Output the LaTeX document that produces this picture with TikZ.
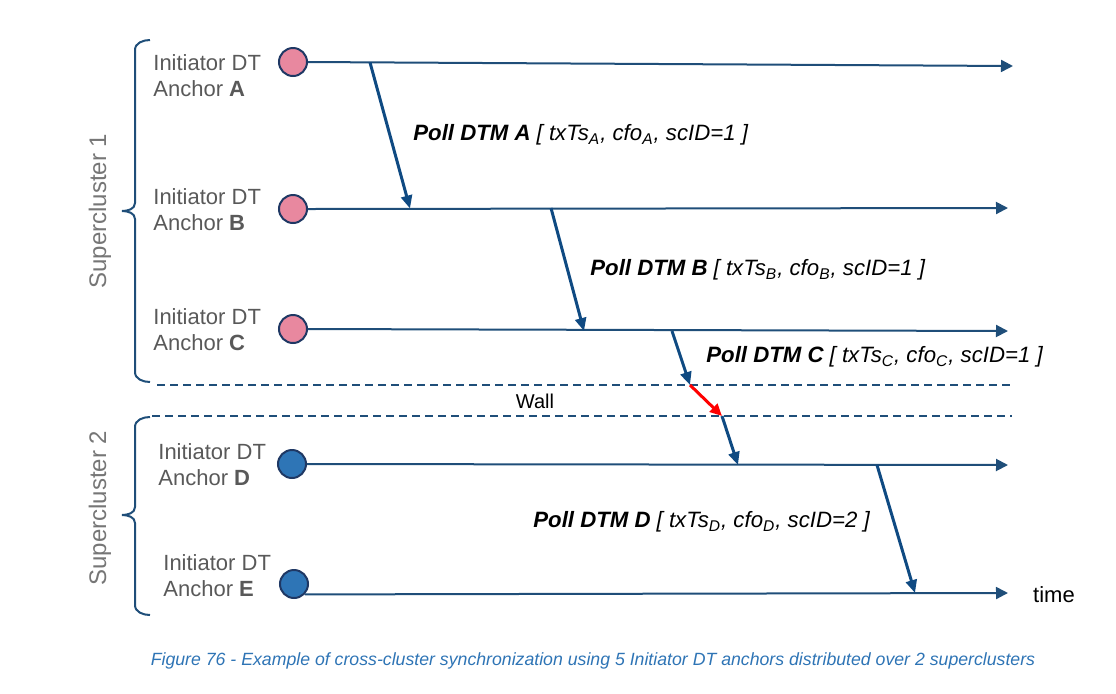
\documentclass[tikz,border=0pt]{standalone}
\usepackage{fontspec}
\setmainfont{Liberation Sans}
\usetikzlibrary{arrows.meta}
\definecolor{tlnavy}{HTML}{1F4E79}
\definecolor{msgnavy}{HTML}{0F4A82}
\definecolor{pinkc}{HTML}{E8889F}
\definecolor{bluec}{HTML}{2E75B6}
\definecolor{edgec}{HTML}{1F3864}
\definecolor{graytxt}{HTML}{595959}
\definecolor{sctxt}{HTML}{767676}
\definecolor{capblue}{HTML}{2E74B5}
\newcommand{\mysub}[1]{\textsubscript{#1}}
\tikzset{
  anchorpink/.style={circle,fill=pinkc,draw=edgec,line width=1pt,minimum size=14pt,inner sep=0pt},
  anchorblue/.style={circle,fill=bluec,draw=edgec,line width=1pt,minimum size=14pt,inner sep=0pt},
  tl/.style={draw=tlnavy,line width=1pt,-{Triangle[length=6pt,width=6pt]}},
  msg/.style={draw=msgnavy,line width=1.5pt,-{Triangle[length=6.5pt,width=5.5pt]}},
  redmsg/.style={draw=red,line width=1.5pt,-{Triangle[length=6pt,width=5.5pt]}},
  wall/.style={draw=tlnavy,line width=1pt,dash pattern=on 4pt off 2.5pt},
  brace/.style={draw=tlnavy,line width=1pt},
  lbl/.style={anchor=west,align=left,inner sep=0pt,text=graytxt,font=\fontsize{11}{13}\selectfont},
  sclbl/.style={rotate=90,inner sep=0pt,text=sctxt,font=\fontsize{12}{14}\selectfont},
  poll/.style={anchor=west,inner sep=0pt,text=black,font=\fontsize{11.1}{13}\selectfont\itshape},
  plain/.style={inner sep=0pt,text=black,font=\fontsize{11}{13}\selectfont},
  caption/.style={inner sep=0pt,text=capblue,font=\fontsize{8.85}{10}\selectfont\itshape}
}
\begin{document}
\begin{tikzpicture}[x=0.5pt,y=-0.5pt]
\useasboundingbox (0,0) rectangle (1116,693);

% anchors
\node[anchorpink] (cA) at (293,62) {};
\node[anchorpink] (cB) at (293,209) {};
\node[anchorpink] (cC) at (293,329) {};
\node[anchorblue] (cD) at (292,464) {};
\node[anchorblue] (cE) at (294,584) {};

% labels
\node[lbl] (lA) at (153,76) {Initiator DT\\Anchor \textbf{A}};
\node[lbl] (lB) at (153,210) {Initiator DT\\Anchor \textbf{B}};
\node[lbl] (lC) at (153,330) {Initiator DT\\Anchor \textbf{C}};
\node[lbl] (lD) at (158,465) {Initiator DT\\Anchor \textbf{D}};
\node[lbl] (lE) at (163,576) {Initiator DT\\Anchor \textbf{E}};

% timeline ends
\coordinate (tA) at (1013,66);
\coordinate (tB) at (1008,208);
\coordinate (tC) at (1008,331);
\coordinate (tD) at (1008,465);
\coordinate (tE) at (1008,593);

\draw[tl] (cA.east) -- (tA);
\draw[tl] (cB.east) -- (tB);
\draw[tl] (cC.east) -- (tC);
\draw[tl] (cD.east) -- (tD);
\draw[tl] (cE.-44) -- (tE);

% wall
\coordinate (w1s) at (157,385);
\coordinate (w1e) at (1012,385);
\coordinate (w2s) at (152,416);
\coordinate (w2e) at (1012,416);
\draw[wall] (w1s) -- (w1e);
\draw[wall] (w2s) -- (w2e);
\node[plain,font=\fontsize{10}{12}\selectfont] (wall) at (535,401) {Wall};

% braces
\draw[brace] (150,40) to[out=180,in=90] (135,50) -- (135,203)
  to[out=270,in=0] (122,211) to[out=0,in=90] (135,219) -- (135,372)
  to[out=270,in=180] (150,382);
\draw[brace] (150,417) to[out=180,in=90] (135,427) -- (135,507)
  to[out=270,in=0] (122,515) to[out=0,in=90] (135,523) -- (135,605)
  to[out=270,in=180] (150,615);
\node[sclbl] (sc1) at (100,211) {Supercluster 1};
\node[sclbl] (sc2) at (100,508) {Supercluster 2};

% messages
\coordinate (mAs) at (370,62.4);
\coordinate (mAe) at (410,208.5);
\coordinate (mBs) at (551,208);
\coordinate (mBe) at (584,331);
\coordinate (mCs) at (672,331);
\coordinate (mCw) at (690,385);
\coordinate (mCx) at (722,416);
\coordinate (mCe) at (738,465);
\coordinate (mDs) at (877,465);
\coordinate (mDe) at (915,593);

\draw[msg] (mAs) -- (mAe);
\draw[msg] (mBs) -- (mBe);
\draw[msg] (mCs) -- (mCw);
\draw[redmsg] (mCw) -- (mCx);
\draw[msg] (mCx) -- (mCe);
\draw[msg] (mDs) -- (mDe);

% poll labels
\node[poll] (pA) at (413,135) {\textbf{Poll DTM A} [ txTs\mysub{A}, cfo\mysub{A}, scID=1 ]};
\node[poll] (pB) at (590,270) {\textbf{Poll DTM B} [ txTs\mysub{B}, cfo\mysub{B}, scID=1 ]};
\node[poll] (pC) at (706,357) {\textbf{Poll DTM C} [ txTs\mysub{C}, cfo\mysub{C}, scID=1 ]};
\node[poll] (pD) at (533,522) {\textbf{Poll DTM D} [ txTs\mysub{D}, cfo\mysub{D}, scID=2 ]};

\node[plain] (time) at (1054,595) {time};

\node[caption] (cap) at (593,661) {Figure 76 - Example of cross-cluster synchronization using 5 Initiator DT anchors distributed over 2 superclusters};
\end{tikzpicture}
\end{document}
